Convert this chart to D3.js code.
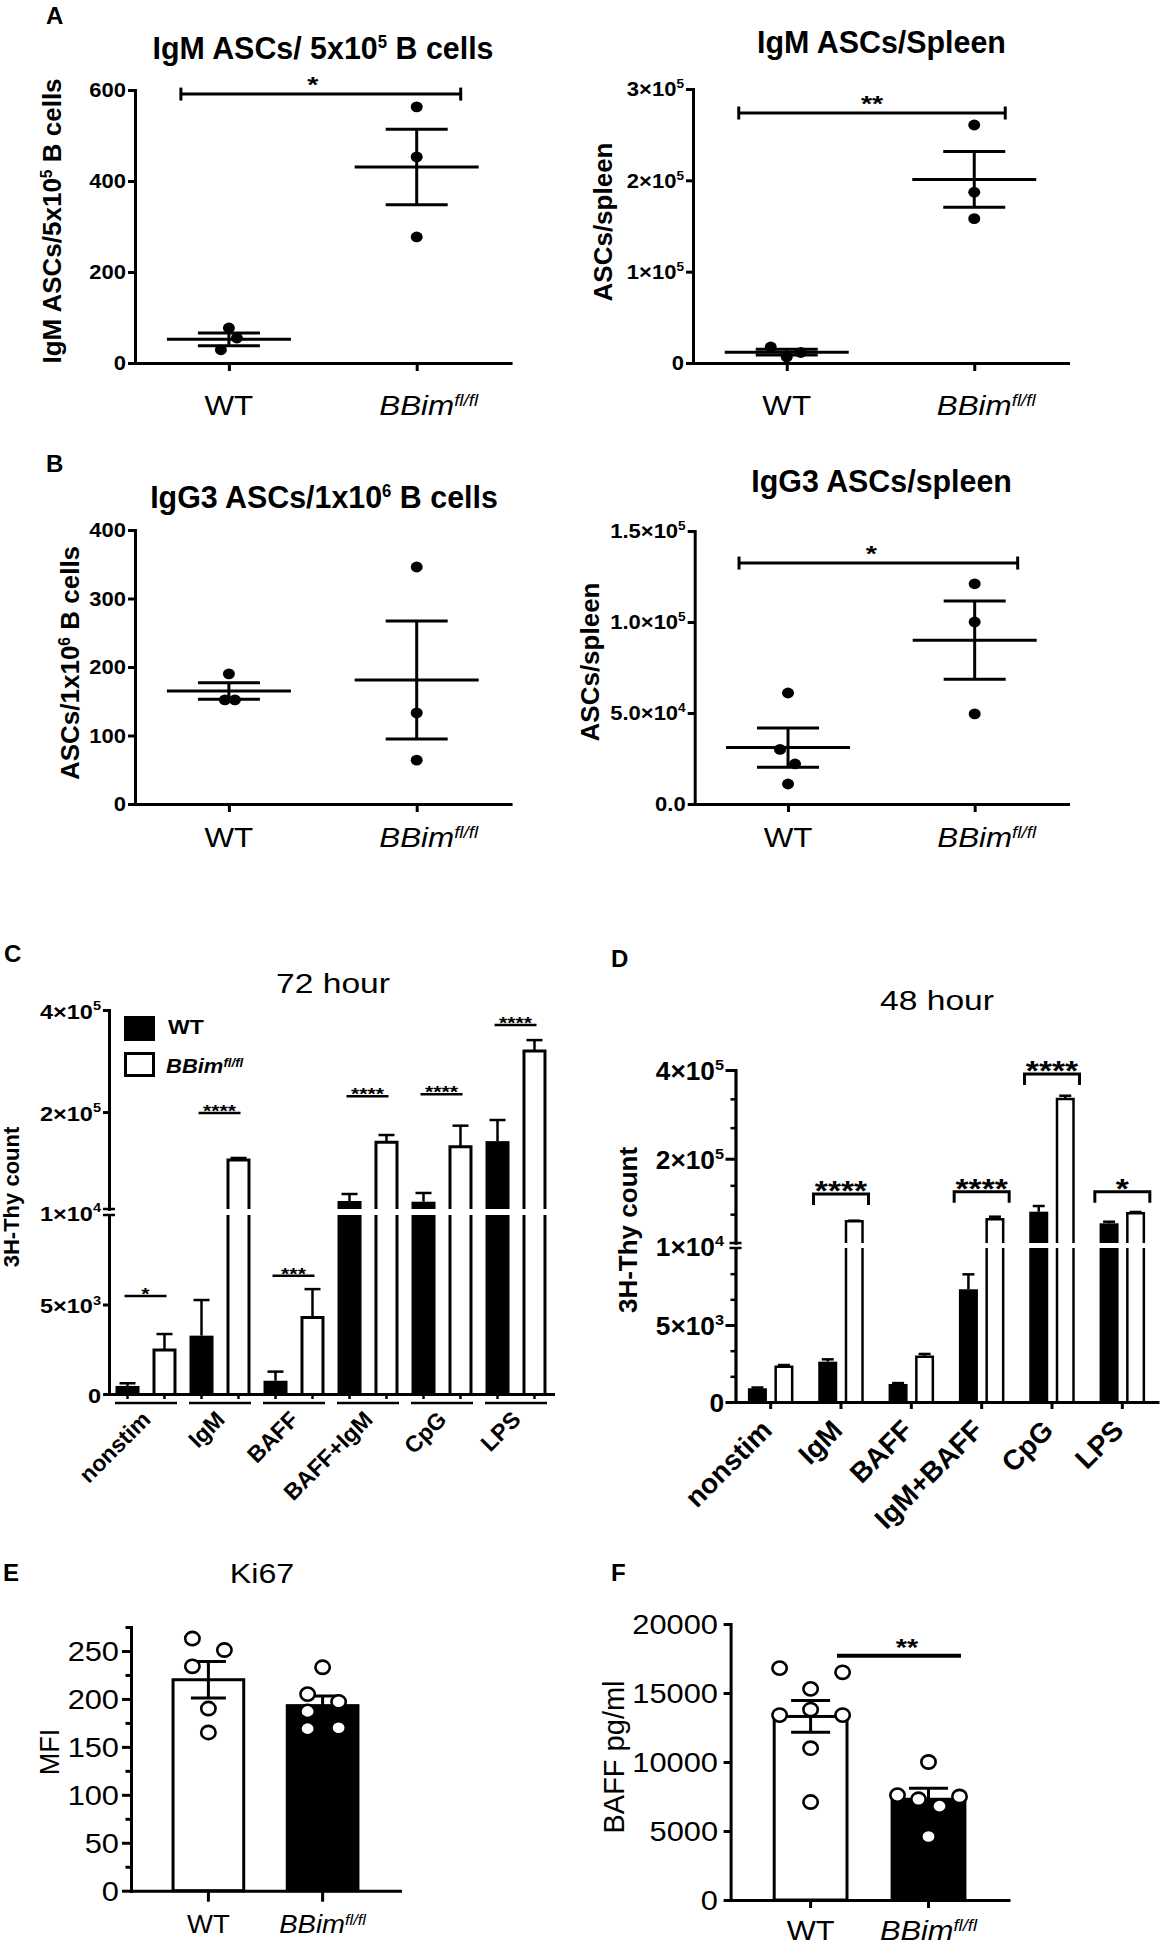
<!DOCTYPE html>
<html>
<head>
<meta charset="utf-8">
<script src="https://cdn.jsdelivr.net/npm/d3@7"></script>
<style>
  body { margin: 0; background: #fff; }
  svg { display: block; }
</style>
</head>
<body>
<div id="chart"></div>
<script>
// ---------------- data ----------------
const groups = ['WT', 'BBim'];
const groupLabels = ['WT', 'BBim^{fl/fl}'];

// A (left) IgM ASCs per 5x10^5 B cells
const igmCells_WT = [77, 55, 29];
const igmCells_BBim = [563, 453, 277];
const igmCells_mean = [52, 431];
const igmCells_sem = [14, 83];
const igmCells_ticks = [0, 200, 400, 600];
const igmCells_tickLabels = ['0', '200', '400', '600'];

// A (right) IgM ASCs per spleen
const igmSpleen_WT = [17500, 6600, 11500];
const igmSpleen_BBim = [260600, 187000, 158000];
const igmSpleen_mean = [11900, 201000];
const igmSpleen_sem = [3200, 30500];
const igmSpleen_ticks = [0, 100000, 200000, 300000];
const igmSpleen_tickLabels = ['0', '1×10^{5}', '2×10^{5}', '3×10^{5}'];

// B (left) IgG3 ASCs per 1x10^6 B cells
const igg3Cells_WT = [190, 152, 152];
const igg3Cells_BBim = [346, 133, 64];
const igg3Cells_mean = [165, 181];
const igg3Cells_sem = [12, 86];
const igg3Cells_ticks = [0, 100, 200, 300, 400];
const igg3Cells_tickLabels = ['0', '100', '200', '300', '400'];

// B (right) IgG3 ASCs per spleen
const igg3Spleen_WT = [61000, 30000, 22000, 11000];
const igg3Spleen_BBim = [121000, 100000, 49500];
const igg3Spleen_mean = [31000, 90000];
const igg3Spleen_sem = [10800, 21500];
const igg3Spleen_ticks = [0, 50000, 100000, 150000];
const igg3Spleen_tickLabels = ['0.0', '5.0×10^{4}', '1.0×10^{5}', '1.5×10^{5}'];

// C 72 hour 3H-Thy
const stim72 = ['nonstim', 'IgM', 'BAFF', 'BAFF+IgM', 'CpG', 'LPS'];
const thy72_WT = [450, 3260, 740, 25700, 24300, 143000];
const thy72_WT_sem = [150, 1990, 510, 13700, 17100, 41400];
const thy72_BBim = [2460, 106000, 4280, 140700, 132000, 319600];
const thy72_BBim_sem = [890, 4000, 1580, 14300, 41300, 21400];
const thy72_sig = ['*', '****', '***', '****', '****', '****'];
const thy72_sigAt = [5470, 198000, 6600, 231000, 235000, 370600];

// D 48 hour 3H-Thy
const stim48 = ['nonstim', 'IgM', 'BAFF', 'IgM+BAFF', 'CpG', 'LPS'];
const thy48_WT = [890, 2620, 1170, 7320, 80600, 54400];
const thy48_WT_sem = [50, 150, 60, 970, 12800, 3600];
const thy48_BBim = [2290, 58900, 2940, 63400, 334600, 77000];
const thy48_BBim_sem = [110, 1400, 180, 5900, 7400, 2900];
const thy48_sig = ['', '****', '', '****', '****', '*'];
const thy48_sigAt = [null, 120500, null, 125600, 391000, 125600];

const thyLowTicks = [0, 5000];
const thyLowTickLabels = ['0', '5×10^{3}'];
const thyBreakLabel = '1×10^{4}';
const thyHighTicks = [200000, 400000];
const thyHighTickLabels = ['2×10^{5}', '4×10^{5}'];

// E Ki67 MFI
const ki67_WT = [263, 251, 234, 190, 165];
const ki67_BBim = [233, 205, 197, 187, 169, 170];
const ki67_mean = [220, 193];
const ki67_sem = [19, 10];
const ki67_ticks = [0, 50, 100, 150, 200, 250];
const ki67_tickLabels = ['0', '50', '100', '150', '200', '250'];

// F BAFF pg/ml
const baff_WT = [16800, 16500, 15300, 13400, 13800, 13400, 11000, 7100];
const baff_BBim = [10000, 7600, 7500, 7300, 6800, 4600];
const baff_mean = [13300, 7300];
const baff_sem = [1150, 800];
const baff_ticks = [0, 5000, 10000, 15000, 20000];
const baff_tickLabels = ['0', '5000', '10000', '15000', '20000'];

// ---------------- helpers ----------------
const FONT = "'Liberation Sans', Arial, Helvetica, sans-serif";
const svg = d3.select('#chart').append('svg').attr('width', 1160).attr('height', 1948);

// text with ^{superscript} parts
function label(parent, x, y, str, o = {}) {
  const fs = o.size || 20;
  let tf = `translate(${x},${y})`;
  if (o.rotate) tf += ` rotate(${o.rotate})`;
  if (o.sx && o.sx !== 1) tf += ` scale(${o.sx},1)`;
  const g = parent.append('g').attr('transform', tf);
  const t = g.append('text')
    .attr('font-family', FONT)
    .attr('font-size', fs)
    .attr('font-weight', o.weight || 'normal')
    .attr('font-style', o.italic ? 'italic' : 'normal')
    .attr('text-anchor', o.anchor || 'middle')
    .attr('fill', '#000');
  if (o.dy) t.attr('dy', o.dy);
  const supR = o.supSize || 0.62;
  const raise = (o.supRaise || 0.4) * fs;
  let up = false;
  str.split(/\^\{([^}]*)\}/).forEach((p, i) => {
    if (!p) return;
    const ts = t.append('tspan').text(p);
    if (i % 2 === 1) {
      ts.attr('font-size', fs * supR);
      if (!up) ts.attr('dy', -raise);
      up = true;
    } else if (up) {
      ts.attr('dy', raise);
      up = false;
    }
  });
  // center on the base word only (sup hangs to the right)
  if (o.centerBase) {
    const w = t.select('tspan').node().getComputedTextLength();
    t.attr('text-anchor', 'start').attr('x', -w / 2);
  }
  return t;
}

function styleAxis(g, sw) {
  g.select('.domain').attr('stroke', '#000').attr('stroke-width', sw).attr('stroke-linecap', 'square');
  g.selectAll('.tick line').attr('stroke', '#000').attr('stroke-width', sw);
  g.selectAll('.tick text').remove();
}

function hline(g, x1, x2, y, sw) {
  g.append('line').attr('x1', x1).attr('x2', x2).attr('y1', y).attr('y2', y)
    .attr('stroke', '#000').attr('stroke-width', sw);
}
function vline(g, x, y1, y2, sw) {
  g.append('line').attr('x1', x).attr('x2', x).attr('y1', y1).attr('y2', y2)
    .attr('stroke', '#000').attr('stroke-width', sw);
}

// ---------------- dot plots (A, B) ----------------
function dotPlot(c) {
  const g = svg.append('g');
  const y = d3.scaleLinear().domain(c.domain).range([c.y0, c.y1]);
  const x = d3.scalePoint().domain(groups).range([c.x0, c.x1]).padding(0.5);

  styleAxis(g.append('g').attr('transform', `translate(${c.x0},0)`)
    .call(d3.axisLeft(y).tickValues(c.ticks).tickSize(7).tickSizeOuter(0).tickFormat('')), 3);
  styleAxis(g.append('g').attr('transform', `translate(0,${c.y0})`)
    .call(d3.axisBottom(x).tickSize(8).tickSizeOuter(0).tickFormat('')), 3);

  c.ticks.forEach((t, i) => label(g, c.x0 - 9, y(t), c.tickLabels[i],
    { size: 20, weight: 'bold', anchor: 'end', dy: '0.36em', sx: 1.1 }));

  groups.forEach((grp, gi) => {
    const cx = x(grp);
    const jit = c.jitter[gi] || [];
    g.append('g').selectAll('ellipse').data(c.points[gi]).join('ellipse')
      .attr('cx', (d, i) => cx + (jit[i] || 0))
      .attr('cy', d => y(d))
      .attr('rx', 6).attr('ry', 5.4)
      .attr('fill', '#000');
    const m = c.mean[gi], s = c.sem[gi];
    hline(g, cx - 62, cx + 62, y(m), 3);
    vline(g, cx, y(m - s), y(m + s), 3);
    hline(g, cx - 31, cx + 31, y(m + s), 3);
    hline(g, cx - 31, cx + 31, y(m - s), 3);

    if (gi === 0) label(g, cx, c.xLabelY, groupLabels[gi], { size: 28, sx: 1.12 });
    else label(g, cx, c.xLabelY, groupLabels[gi],
      { size: 28, sx: 1.12, italic: true, supSize: 0.6, supRaise: 0.32, centerBase: true });
  });

  if (c.sig) {
    const sy = y(c.sig.at);
    const xa = x('WT') + c.sig.dx[0], xb = x('BBim') + c.sig.dx[1];
    hline(g, xa, xb, sy, 3);
    vline(g, xa, sy - 6.5, sy + 6.5, 3);
    vline(g, xb, sy - 6.5, sy + 6.5, 3);
    label(g, (xa + xb) / 2 + (c.sig.starDx || 0), sy - 2, c.sig.text, { size: 22, weight: 'bold', sx: 1.3 });
  }

  label(g, c.title.x, c.title.y, c.title.text,
    { size: 32, weight: 'bold', sx: 0.95, supSize: 0.55, supRaise: 0.34 });
  label(g, c.yLabel.x, c.yLabel.y, c.yLabel.text,
    { size: 26, weight: 'bold', rotate: -90, supSize: 0.6, supRaise: 0.36 });
}

dotPlot({
  x0: 135, x1: 510.6, y0: 363, y1: 90, domain: [0, 600],
  ticks: igmCells_ticks, tickLabels: igmCells_tickLabels,
  points: [igmCells_WT, igmCells_BBim], jitter: [[0, 8, -8], null],
  mean: igmCells_mean, sem: igmCells_sem,
  sig: { at: 591, dx: [-48, 44], text: '*', starDx: -8 },
  xLabelY: 415,
  title: { x: 323, y: 59, text: 'IgM ASCs/ 5x10^{5} B cells' },
  yLabel: { x: 61, y: 221, text: 'IgM ASCs/5x10^{5} B cells' }
});

dotPlot({
  x0: 693, x1: 1068, y0: 363, y1: 89, domain: [0, 300000],
  ticks: igmSpleen_ticks, tickLabels: igmSpleen_tickLabels,
  points: [igmSpleen_WT, igmSpleen_BBim], jitter: [[-16, 0, 14], null],
  mean: igmSpleen_mean, sem: igmSpleen_sem,
  sig: { at: 273700, dx: [-48, 31], text: '**' },
  xLabelY: 415,
  title: { x: 881.5, y: 53, text: 'IgM ASCs/Spleen' },
  yLabel: { x: 612, y: 222, text: 'ASCs/spleen' }
});

dotPlot({
  x0: 135, x1: 510.6, y0: 804, y1: 530, domain: [0, 400],
  ticks: igg3Cells_ticks, tickLabels: igg3Cells_tickLabels,
  points: [igg3Cells_WT, igg3Cells_BBim], jitter: [[0, -4, 6], null],
  mean: igg3Cells_mean, sem: igg3Cells_sem,
  sig: null,
  xLabelY: 847,
  title: { x: 324, y: 508, text: 'IgG3 ASCs/1x10^{6} B cells' },
  yLabel: { x: 79, y: 663, text: 'ASCs/1x10^{6} B cells' }
});

dotPlot({
  x0: 694.7, x1: 1068, y0: 804, y1: 531, domain: [0, 150000],
  ticks: igg3Spleen_ticks, tickLabels: igg3Spleen_tickLabels,
  points: [igg3Spleen_WT, igg3Spleen_BBim], jitter: [[0, -8, 7, 0], null],
  mean: igg3Spleen_mean, sem: igg3Spleen_sem,
  sig: { at: 132400, dx: [-49, 43], text: '*', starDx: -7 },
  xLabelY: 847,
  title: { x: 881.6, y: 492, text: 'IgG3 ASCs/spleen' },
  yLabel: { x: 599, y: 662, text: 'ASCs/spleen' }
});

// ---------------- broken-axis bar charts (C, D) ----------------
function brokenBars(c) {
  const g = svg.append('g');
  const yLo = d3.scaleLinear().domain([0, 10000]).range(c.lowRange);
  const yUp = d3.scaleLinear().domain([10000, 400000]).range(c.upRange);
  const yv = v => v <= 10000 ? yLo(v) : yUp(v);
  const x = d3.scaleBand().domain(c.cats).range([c.x0, c.x1]);
  const xs = d3.scaleBand().domain(groups).range([0, x.bandwidth()])
    .paddingInner(c.padInner).paddingOuter(c.padOuter);
  const bw = xs.bandwidth();
  const sw = c.sw;

  const rows = [];
  c.cats.forEach((cat, i) => {
    rows.push({ cat, s: 'WT', v: c.wt[i], e: c.wtSem[i] });
    rows.push({ cat, s: 'BBim', v: c.bb[i], e: c.bbSem[i] });
  });

  rows.forEach(r => {
    const bx = x(r.cat) + xs(r.s);
    if (r.s === 'WT') {
      if (r.v <= 10000) {
        g.append('rect').attr('x', bx).attr('width', bw)
          .attr('y', yLo(r.v)).attr('height', yLo(0) - yLo(r.v)).attr('fill', '#000');
      } else {
        g.append('rect').attr('x', bx).attr('width', bw)
          .attr('y', yLo(10000)).attr('height', yLo(0) - yLo(10000)).attr('fill', '#000');
        g.append('rect').attr('x', bx).attr('width', bw)
          .attr('y', yUp(r.v)).attr('height', yUp(10000) - yUp(r.v)).attr('fill', '#000');
      }
    } else {
      const xl = bx + sw / 2, xr = bx + bw - sw / 2;
      let d;
      if (r.v <= 10000) {
        d = `M${xl},${yLo(0)}V${yLo(r.v)}H${xr}V${yLo(0)}`;
      } else {
        d = `M${xl},${yLo(0)}V${yLo(10000)}M${xr},${yLo(0)}V${yLo(10000)}` +
            `M${xl},${yUp(10000)}V${yUp(r.v)}H${xr}V${yUp(10000)}`;
      }
      g.append('path').attr('d', d).attr('fill', 'none').attr('stroke', '#000').attr('stroke-width', sw);
    }
    // error bar (upper only)
    const cx = bx + bw / 2;
    if (r.e > 0) {
      vline(g, cx, yv(r.v), yv(r.v + r.e), c.ew);
      hline(g, cx - c.cap, cx + c.cap, yv(r.v + r.e), c.ew);
    }
  });

  // y axes (two segments)
  styleAxis(g.append('g').attr('transform', `translate(${c.x0},0)`)
    .call(d3.axisLeft(yLo).tickValues(thyLowTicks).tickSize(c.tickLen).tickSizeOuter(0).tickFormat('')), 3);
  styleAxis(g.append('g').attr('transform', `translate(${c.x0},0)`)
    .call(d3.axisLeft(yUp).tickValues(thyHighTicks).tickSize(c.tickLen).tickSizeOuter(0).tickFormat('')), 3);
  if (c.minorLow) {
    styleAxis(g.append('g').attr('transform', `translate(${c.x0},0)`)
      .call(d3.axisLeft(yLo).tickValues(c.minorLow).tickSize(5).tickSizeOuter(0).tickFormat('')), 2.5);
    styleAxis(g.append('g').attr('transform', `translate(${c.x0},0)`)
      .call(d3.axisLeft(yUp).tickValues(c.minorUp).tickSize(5).tickSizeOuter(0).tickFormat('')), 2.5);
  }
  // break mark
  hline(g, c.x0 - 6, c.x0 + 6, c.lowRange[1], 2.5);
  hline(g, c.x0 - 6, c.x0 + 6, c.upRange[0], 2.5);

  const tl = c.tickFont;
  thyLowTicks.forEach((t, i) => label(g, c.labelX, yLo(t), thyLowTickLabels[i],
    { size: tl.size, weight: 'bold', anchor: 'end', dy: tl.dy, sx: tl.sx }));
  thyHighTicks.forEach((t, i) => label(g, c.labelX, yUp(t), thyHighTickLabels[i],
    { size: tl.size, weight: 'bold', anchor: 'end', dy: tl.dy, sx: tl.sx }));
  label(g, c.labelX, (c.lowRange[1] + c.upRange[0]) / 2, thyBreakLabel,
    { size: tl.size, weight: 'bold', anchor: 'end', dy: tl.dy, sx: tl.sx });

  // x axis
  const xa = g.append('g').attr('transform', `translate(0,${c.lowRange[0]})`)
    .call(d3.axisBottom(x).tickSize(c.xTick ? 0 : 7).tickSizeOuter(0).tickFormat(''));
  styleAxis(xa, 3);
  if (c.xTick) {
    rows.forEach(r => {
      const cx = x(r.cat) + xs(r.s) + bw / 2;
      vline(g, cx, c.lowRange[0], c.lowRange[0] + 5, 2.5);
    });
  }
  if (c.underline) {
    c.cats.forEach(cat => {
      const cx = x(cat) + x.bandwidth() / 2;
      hline(g, cx - 31, cx + 31, c.underline, 2.5);
    });
  }
  c.cats.forEach(cat => {
    const cx = x(cat) + x.bandwidth() / 2;
    label(g, cx + c.catDx, c.catY, cat, { size: c.catSize, weight: 'bold', anchor: 'end', rotate: -45 });
  });

  // significance
  c.sig.forEach((s, i) => {
    if (!s) return;
    const cat = c.cats[i];
    const sy = yv(c.sigAt[i]);
    if (c.bracket) {
      const cx = x(cat) + x.bandwidth() / 2;
      const xa1 = cx - 27.5, xb1 = cx + 27.5;
      g.append('path').attr('d', `M${xa1},${sy + 11}V${sy}H${xb1}V${sy + 11}`)
        .attr('fill', 'none').attr('stroke', '#000').attr('stroke-width', 3);
      label(g, cx, sy + c.starDy, s, { size: c.starSize, weight: 'bold', sx: c.starSx });
    } else {
      const xa1 = x(cat) + xs('WT') + bw / 2 - 3, xb1 = x(cat) + xs('BBim') + bw / 2 + 2;
      hline(g, xa1, xb1, sy, 2.5);
      label(g, (xa1 + xb1) / 2, sy + c.starDy, s, { size: c.starSize, weight: 'bold', sx: c.starSx });
    }
  });

  label(g, c.title.x, c.title.y, c.title.text, { size: 28, sx: 1.2 });
  label(g, c.yLabel.x, c.yLabel.y, '3H-Thy count', { size: c.yLabel.size, weight: 'bold', rotate: -90 });
  return { g, x, xs };
}

const cPanel = brokenBars({
  cats: stim72, wt: thy72_WT, wtSem: thy72_WT_sem, bb: thy72_BBim, bbSem: thy72_BBim_sem,
  sig: thy72_sig, sigAt: thy72_sigAt,
  x0: 109, x1: 553, lowRange: [1394, 1215], upRange: [1209, 1010],
  padInner: 0.351, padOuter: 0.176, sw: 3, ew: 2.5, cap: 8,
  tickLen: 6, labelX: 101, tickFont: { size: 21, sx: 1.12, dy: '0.42em' },
  xTick: true, underline: 1403, catDx: 6, catY: 1421, catSize: 23,
  bracket: false, starSize: 17, starSx: 1.25, starDy: 4,
  title: { x: 333, y: 993, text: '72 hour' },
  yLabel: { x: 19, y: 1197, size: 22 }
});

// legend for C
{
  const lg = cPanel.g;
  lg.append('rect').attr('x', 124).attr('y', 1016).attr('width', 31).attr('height', 25).attr('fill', '#000');
  lg.append('rect').attr('x', 125.5).attr('y', 1053.5).attr('width', 28).attr('height', 22)
    .attr('fill', '#fff').attr('stroke', '#000').attr('stroke-width', 3);
  label(lg, 168, 1034, groupLabels[0], { size: 20, weight: 'bold', anchor: 'start', sx: 1.15 });
  label(lg, 166, 1073, groupLabels[1], { size: 20, weight: 'bold', italic: true, anchor: 'start', sx: 1.1, supSize: 0.6, supRaise: 0.32 });
}

brokenBars({
  cats: stim48, wt: thy48_WT, wtSem: thy48_WT_sem, bb: thy48_BBim, bbSem: thy48_BBim_sem,
  sig: thy48_sig, sigAt: thy48_sigAt,
  x0: 735.5, x1: 1157.5, lowRange: [1402, 1248], upRange: [1243, 1070],
  padInner: 0.283, padOuter: 0.468, sw: 2.5, ew: 2.5, cap: 6,
  tickLen: 10, labelX: 724, tickFont: { size: 25, sx: 1.05, dy: '0.4em' },
  minorLow: [1667, 3333, 6667, 8333], minorUp: [75000, 140000, 270000, 335000],
  xTick: false, underline: null, catDx: 3, catY: 1432, catSize: 28,
  bracket: true, starSize: 28, starSx: 1.2, starDy: 6,
  title: { x: 937, y: 1010, text: '48 hour' },
  yLabel: { x: 637, y: 1230, size: 26 }
});

// ---------------- bar + dot charts (E, F) ----------------
function barDots(c) {
  const g = svg.append('g');
  const y = d3.scaleLinear().domain(c.domain).range([c.y0, c.y1]);
  const x = d3.scaleBand().domain(groups).range([c.x0, c.x1]).padding(c.pad);
  const bw = x.bandwidth();

  groups.forEach((grp, gi) => {
    const m = c.mean[gi];
    g.append('rect').attr('x', x(grp) + 1.5).attr('width', bw - 3)
      .attr('y', y(m)).attr('height', c.y0 - y(m))
      .attr('fill', gi === 0 ? '#fff' : '#000').attr('stroke', '#000').attr('stroke-width', 3);
  });
  groups.forEach((grp, gi) => {
    const cx = x(grp) + bw / 2, m = c.mean[gi], s = c.sem[gi];
    vline(g, cx, y(m - s), y(m + s), 3);
    hline(g, cx - c.cap, cx + c.cap, y(m + s), 3);
    hline(g, cx - c.cap, cx + c.cap, y(m - s), 3);
  });

  styleAxis(g.append('g').attr('transform', `translate(${c.x0},0)`)
    .call(d3.axisLeft(y).tickValues(c.ticks).tickSize(c.tickLen).tickSizeOuter(0).tickFormat('')), 3);
  if (c.minor) {
    styleAxis(g.append('g').attr('transform', `translate(${c.x0},0)`)
      .call(d3.axisLeft(y).tickValues(c.minor).tickSize(5.5).tickSizeOuter(0).tickFormat('')), 3);
  }
  styleAxis(g.append('g').attr('transform', `translate(0,${c.y0})`)
    .call(d3.axisBottom(x).tickSize(c.xTickLen).tickSizeOuter(0).tickFormat('')), 3);

  c.ticks.forEach((t, i) => label(g, c.labelX, y(t), c.tickLabels[i],
    { size: 28, anchor: 'end', dy: '0.36em', sx: 1.1 }));

  groups.forEach((grp, gi) => {
    const cx = x(grp) + bw / 2;
    const jit = c.jitter[gi];
    g.append('g').selectAll('ellipse').data(c.points[gi]).join('ellipse')
      .attr('cx', (d, i) => cx + jit[i])
      .attr('cy', d => y(d))
      .attr('rx', 7.2).attr('ry', 6.6)
      .attr('fill', '#fff').attr('stroke', '#000').attr('stroke-width', 2.6);
    label(g, cx, c.xLabelY, groupLabels[gi],
      { size: c.xLabelSize, sx: 1.1, italic: gi === 1, supSize: 0.6, supRaise: 0.32 });
  });

  if (c.sig) {
    const sy = y(c.sig.at);
    hline(g, c.sig.x1, c.sig.x2, sy, 4);
    label(g, (c.sig.x1 + c.sig.x2) / 2 + 8, sy, c.sig.text, { size: 24, weight: 'bold', sx: 1.2 });
  }
  if (c.title) label(g, c.title.x, c.title.y, c.title.text, { size: 28, sx: 1.15 });
  label(g, c.yLabel.x, c.yLabel.y, c.yLabel.text, { size: c.yLabel.size, rotate: -90 });
}

barDots({
  x0: 131, x1: 400, y0: 1890.7, y1: 1627, domain: [0, 275], pad: 0.355,
  ticks: ki67_ticks, tickLabels: ki67_tickLabels, minor: [25, 75, 125, 175, 225, 275],
  tickLen: 9, xTickLen: 11, labelX: 119,
  mean: ki67_mean, sem: ki67_sem, cap: 17.5,
  points: [ki67_WT, ki67_BBim],
  jitter: [[-16, 16, -16, 0, 0], [0, -15, 16, -15, -15, 16]],
  xLabelY: 1933, xLabelSize: 25,
  sig: null,
  title: { x: 262, y: 1583, text: 'Ki67' },
  yLabel: { x: 59, y: 1752, text: 'MFI', size: 27 }
});

barDots({
  x0: 730.6, x1: 1008.5, y0: 1900, y1: 1624, domain: [0, 20000], pad: 0.357,
  ticks: baff_ticks, tickLabels: baff_tickLabels, minor: null,
  tickLen: 7, xTickLen: 8, labelX: 718,
  mean: baff_mean, sem: baff_sem, cap: 19.5,
  points: [baff_WT, baff_BBim],
  jitter: [[-31, 32, 0, -31, 0, 32, 0, 0], [0, -31, 31, -10, 11, 0]],
  xLabelY: 1940, xLabelSize: 28,
  sig: { at: 17700, x1: 837, x2: 961, text: '**' },
  title: null,
  yLabel: { x: 624, y: 1757, text: 'BAFF pg/ml', size: 29 }
});

// ---------------- panel letters ----------------
[['A', 46, 24], ['B', 46, 472], ['C', 4, 962], ['D', 611, 967], ['E', 3, 1581], ['F', 611, 1581]]
  .forEach(([t, x, y]) => label(svg, x, y, t, { size: 24, weight: 'bold', anchor: 'start' }));
</script>
</body>
</html>
